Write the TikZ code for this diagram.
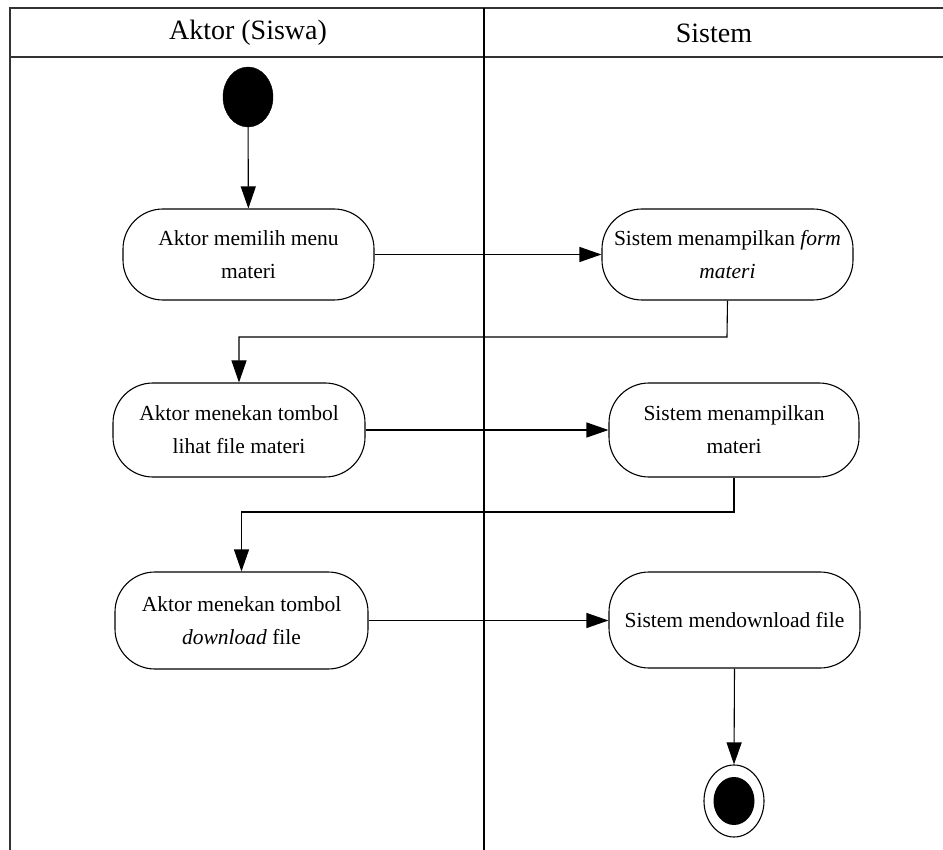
\documentclass[tikz,border=0pt]{standalone}
\usepackage{fontspec}
\setmainfont{Liberation Serif}
\usetikzlibrary{arrows.meta,shapes.geometric}
\tikzset{
  act/.style={draw=black, line width=1.1pt, rounded corners=40pt, inner sep=0pt,
    align=center, font=\fontsize{21.5}{33}\selectfont},
  flow/.style={line width=1.1pt, -{Triangle[length=22pt,width=15pt]}},
  frame/.style={line width=2pt, draw=black!80},
  lane/.style={font=\fontsize{28}{32}\selectfont},
}
\begin{document}
\begin{tikzpicture}[x=1pt,y=-1pt]
\useasboundingbox (0,0) rectangle (943,850);
% frame
\draw[frame] (10,850) -- (10,8) -- (943,8);
\draw[frame] (10,57) -- (943,57);
\draw[line width=1.4pt] (484,8) -- (484,850);
\node[lane] (h1) at (248,33) {Aktor (Siswa)};
\node[lane] (h2) at (714,33) {Sistem};
% nodes
\node[fill=black, draw=black, ellipse, minimum width=50pt, minimum height=60pt, inner sep=0pt] (start) at (248,97) {};
\node[act, minimum width=251pt, minimum height=91pt] (a1) at (248.5,254.5) {Aktor memilih menu\\materi};
\node[act, minimum width=251pt, minimum height=91pt] (s1) at (727.5,254.5) {Sistem menampilkan \textit{form}\\\textit{materi}};
\node[act, minimum width=252pt, minimum height=94pt] (a2) at (239,430) {Aktor menekan tombol\\lihat file materi};
\node[act, minimum width=250pt, minimum height=94pt] (s2) at (734,430) {Sistem menampilkan\\materi};
\node[act, minimum width=253pt, minimum height=97pt] (a3) at (241.5,620.5) {Aktor menekan tombol\\\textit{download} file};
\node[act, minimum width=251pt, minimum height=96pt] (s3) at (734.5,620) {Sistem mendownload file};
\node[draw=black, line width=1.1pt, ellipse, minimum width=60pt, minimum height=72pt, inner sep=0pt] (end) at (734,801) {};
\fill[black] (end.center) ellipse (20.5pt and 24pt);
% connectors
\draw[flow] (start) -- (a1);
\draw[flow] (a1) -- (s1.west |- a1);
\coordinate (c1) at (727,337);
\draw[flow] (s1.south) -- (c1) -- (c1 -| a2) -- (a2.north);
\draw[flow] (a2) -- (s2.west |- a2);
\coordinate (c2) at (734,512);
\draw[flow] (s2.south) -- (c2) -- (c2 -| a3) -- (a3.north);
\draw[flow] (a3) -- (s3.west |- a3);
\draw[flow] (s3.south) -- (end.north);
\end{tikzpicture}
\end{document}
